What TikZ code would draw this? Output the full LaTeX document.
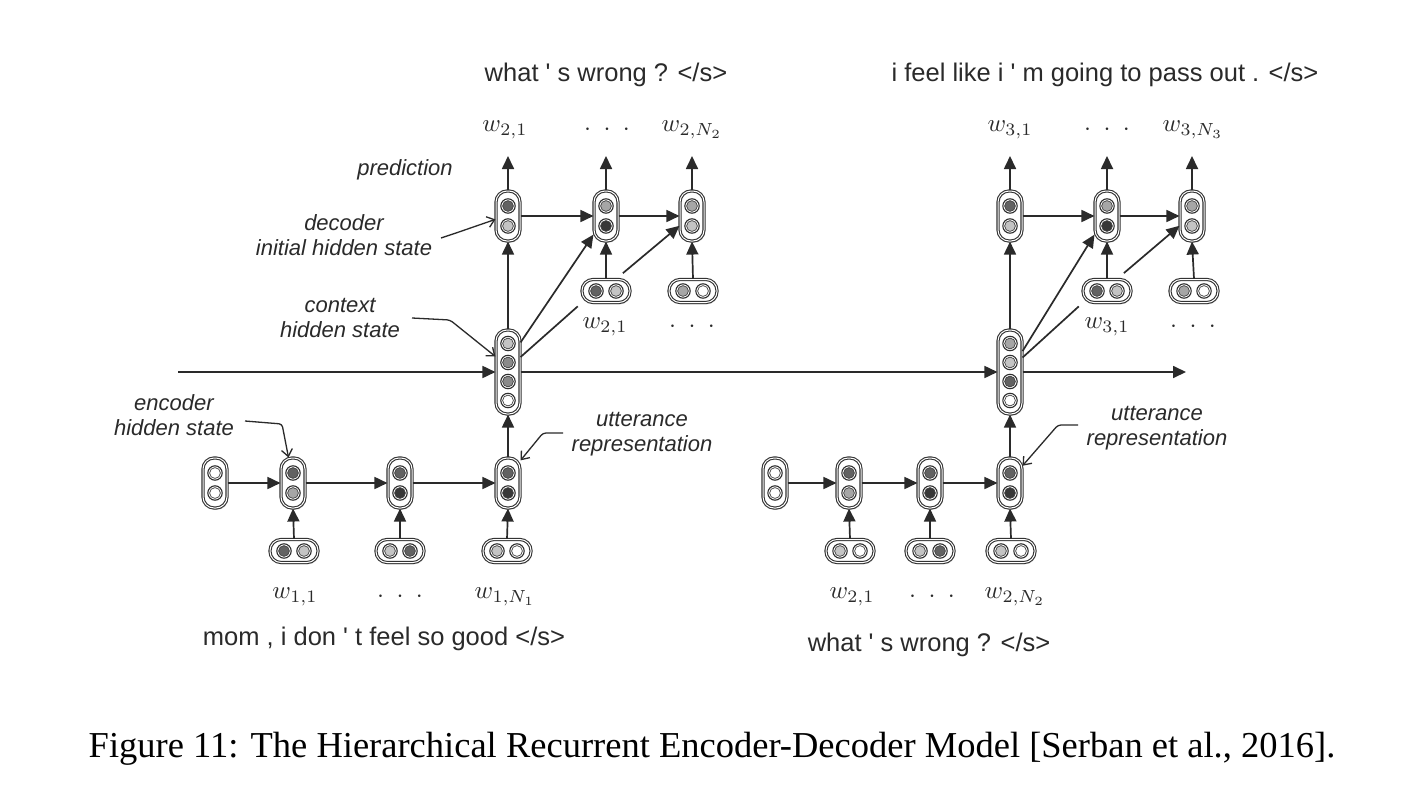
\documentclass[tikz,border=0pt]{standalone}
\usepackage{graphicx}
\usepackage{fontspec}
\setmainfont{Liberation Sans}
\newfontfamily\capfont{Liberation Serif}
\usetikzlibrary{arrows.meta,shadows,calc}

\definecolor{ink}{HTML}{2A2A2A}
\definecolor{cW}{HTML}{FFFFFF}
\definecolor{cL}{HTML}{C4C4C4}
\definecolor{cM}{HTML}{A6A6A6}
\definecolor{cG}{HTML}{8A8A8A}
\definecolor{cD}{HTML}{626262}
\definecolor{cK}{HTML}{383838}

\tikzset{
  capsty/.style={draw=black!80, line width=1.1pt, double=white, double distance=1.0pt,
    fill=white, rounded corners=11pt, inner sep=0pt,
    drop shadow={opacity=0.35, shadow xshift=1pt, shadow yshift=-1.8pt}},
  vcapsty/.style={capsty, minimum width=24pt, minimum height=50pt},
  ccapsty/.style={capsty, minimum width=24pt, minimum height=84pt},
  hcapsty/.style={capsty, minimum width=48pt, minimum height=23pt},
  arr/.style={draw=ink, line width=1.7pt, -{Triangle[length=13pt,width=12pt]}},
  ln/.style={draw=ink, line width=1.7pt},
  ann/.style={draw=ink, line width=1.3pt, rounded corners=3pt,
    -{Straight Barb[length=7pt,width=11pt,line width=1.3pt]}},
  sent/.style={font=\fontsize{25.5}{30}\selectfont, text=ink, inner sep=0pt},
  note/.style={font=\fontsize{22}{25.5}\selectfont\itshape, text=ink, inner sep=0pt, align=center},
  wl/.style={text=ink, inner sep=0pt},
}

\newcommand\cellball[3]{%
  \draw[draw=black!82, line width=1.1pt, fill=white] (#1,#2) circle[radius=7.2pt];
  \draw[draw=black!75, line width=0.7pt, fill=#3] (#1,#2) circle[radius=5.4pt];}
\newcommand\vcell[5]{%
  \node[vcapsty] (#1) at (#2,#3) {};
  \cellball{#2}{#3-10}{#4}\cellball{#2}{#3+10}{#5}}
\newcommand\hcell[5]{%
  \node[hcapsty] (#1) at (#2,#3) {};
  \cellball{#2-10}{#3}{#4}\cellball{#2+10}{#3}{#5}}
\newcommand\ccell[7]{%
  \node[ccapsty] (#1) at (#2,#3) {};
  \cellball{#2}{#3-28.5}{#4}\cellball{#2}{#3-9.5}{#5}%
  \cellball{#2}{#3+9.5}{#6}\cellball{#2}{#3+28.5}{#7}}
\newcommand\wm[1]{\scalebox{2.5}{$#1$}}
\newcommand\wdots{\scalebox{2.5}{${\cdot}\hspace{0.5em}{\cdot}\hspace{0.5em}{\cdot}$}}
\newcommand\q{\textquotesingle}

\begin{document}
\begin{tikzpicture}[x=1pt,y=-1pt]
\useasboundingbox[fill=white] (0,0) rectangle (1426,792);

\coordinate (cs) at (178,372);
\coordinate (ce) at (1186,372);

% ---------- encoder 1 ----------
\vcell{e1i}{215}{483}{cW}{cW}
\vcell{e1a}{293}{483}{cD}{cM}
\vcell{e1b}{400}{483}{cD}{cK}
\vcell{e1c}{508}{483}{cD}{cK}
\hcell{e1x1}{294}{551}{cD}{cL}
\hcell{e1x2}{400}{551}{cL}{cD}
\hcell{e1x3}{507}{551}{cL}{cW}

% ---------- context ----------
\ccell{c1}{508}{372}{cL}{cG}{cG}{cW}
\ccell{c2}{1010}{372}{cM}{cL}{cD}{cW}

% ---------- decoder 1 ----------
\vcell{d1a}{508}{216}{cD}{cL}
\vcell{d1b}{606}{216}{cM}{cK}
\vcell{d1c}{692}{216}{cM}{cL}
\hcell{d1x1}{606}{291}{cD}{cL}
\hcell{d1x2}{693}{291}{cM}{cW}

% ---------- decoder 2 ----------
\vcell{d2a}{1010}{216}{cD}{cL}
\vcell{d2b}{1107}{216}{cM}{cK}
\vcell{d2c}{1192}{216}{cM}{cL}
\hcell{d2x1}{1107}{291}{cD}{cL}
\hcell{d2x2}{1194}{291}{cM}{cW}

% ---------- encoder 2 ----------
\vcell{e2i}{775}{483}{cW}{cW}
\vcell{e2a}{849}{483}{cD}{cM}
\vcell{e2b}{930}{483}{cD}{cK}
\vcell{e2c}{1010}{483}{cD}{cK}
\hcell{e2x1}{850}{551}{cL}{cW}
\hcell{e2x2}{930}{551}{cL}{cD}
\hcell{e2x3}{1011}{551}{cL}{cW}

% ---------- output tip coordinates ----------
\coordinate (o1a) at (508,156);
\coordinate (o1b) at (606,156);
\coordinate (o1c) at (692,156);
\coordinate (o2a) at (1010,156);
\coordinate (o2b) at (1107,156);
\coordinate (o2c) at (1192,156);

% ---------- arrows: encoder 1 ----------
\draw[arr] (e1i.east) -- (e1a.west);
\draw[arr] (e1a.east) -- (e1b.west);
\draw[arr] (e1b.east) -- (e1c.west);
\draw[arr] (e1x1.north) -- (e1a.south);
\draw[arr] (e1x2.north) -- (e1b.south);
\draw[arr] (e1x3.north) -- (e1c.south);
\draw[arr] (e1c.north) -- (c1.south);

% ---------- arrows: encoder 2 ----------
\draw[arr] (e2i.east) -- (e2a.west);
\draw[arr] (e2a.east) -- (e2b.west);
\draw[arr] (e2b.east) -- (e2c.west);
\draw[arr] (e2x1.north) -- (e2a.south);
\draw[arr] (e2x2.north) -- (e2b.south);
\draw[arr] (e2x3.north) -- (e2c.south);
\draw[arr] (e2c.north) -- (c2.south);

% ---------- context chain ----------
\draw[arr] (cs) -- (c1.west);
\draw[arr] (c1.east) -- (c2.west);
\draw[arr] (c2.east) -- (ce);

% ---------- decoder 1 ----------
\draw[arr] (c1.north) -- (d1a.south);
\draw[arr] (c1.67) -- (d1b.236);
\draw[ln, shorten >=5pt] (c1.50) -- (d1x1.south west);
\draw[arr, shorten <=9pt] ($(d1x1.north)+(10,0)$) -- (d1c.218);
\draw[arr] (d1a.east) -- (d1b.west);
\draw[arr] (d1b.east) -- (d1c.west);
\draw[arr] (d1x1.north) -- (d1b.south);
\draw[arr] (d1x2.north) -- (d1c.south);
\draw[arr] (d1a.north) -- (o1a);
\draw[arr] (d1b.north) -- (o1b);
\draw[arr] (d1c.north) -- (o1c);

% ---------- decoder 2 ----------
\draw[arr] (c2.north) -- (d2a.south);
\draw[arr] (c2.59) -- (d2b.236);
\draw[ln, shorten >=5pt] (c2.49) -- (d2x1.south west);
\draw[arr, shorten <=9pt] ($(d2x1.north)+(10,0)$) -- (d2c.218);
\draw[arr] (d2a.east) -- (d2b.west);
\draw[arr] (d2b.east) -- (d2c.west);
\draw[arr] (d2x1.north) -- (d2b.south);
\draw[arr] (d2x2.north) -- (d2c.south);
\draw[arr] (d2a.north) -- (o2a);
\draw[arr] (d2b.north) -- (o2b);
\draw[arr] (d2c.north) -- (o2c);

% ---------- sentences ----------
\node[sent] (s1) at (606,75) {what \q\ s wrong ? </s>};
\node[sent] (s2) at (1105,75) {i feel like i \q\ m going to pass out . </s>};
\node[sent] (s3) at (384,639) {mom , i don \q\ t feel so good </s>};
\node[sent] (s4) at (929,645) {what \q\ s wrong ? </s>};

% ---------- word labels ----------
\node[wl] (l11) at (295,597) {\wm{w_{1,1}}};
\node[wl] (l12) at (400,597) {\wdots};
\node[wl] (l13) at (505,597) {\wm{w_{1,N_1}}};
\node[wl] (l21) at (852,597) {\wm{w_{2,1}}};
\node[wl] (l22) at (932,597) {\wdots};
\node[wl] (l23) at (1015,597) {\wm{w_{2,N_2}}};
\node[wl] (t11) at (505,130) {\wm{w_{2,1}}};
\node[wl] (t12) at (607,130) {\wdots};
\node[wl] (t13) at (692,130) {\wm{w_{2,N_2}}};
\node[wl] (t21) at (1010,130) {\wm{w_{3,1}}};
\node[wl] (t22) at (1107,130) {\wdots};
\node[wl] (t23) at (1193,130) {\wm{w_{3,N_3}}};
\node[wl] (i11) at (605,327) {\wm{w_{2,1}}};
\node[wl] (i12) at (692,327) {\wdots};
\node[wl] (i21) at (1107,327) {\wm{w_{3,1}}};
\node[wl] (i22) at (1193,327) {\wdots};

% ---------- annotations ----------
\node[note] (npred) at (405,170) {prediction};
\node[note] (ndec) at (344,235) {decoder\\initial hidden state};
\node[note] (nctx) at (340,318) {context\\hidden state};
\node[note] (nenc) at (174,415) {encoder\\hidden state};
\node[note] (nutt1) at (642,434) {utterance\\representation};
\node[note] (nutt2) at (1157,428) {utterance\\representation};

\coordinate (adec) at (441,238);
\coordinate (actx) at (412,318);
\coordinate (aenc) at (245,421);
\coordinate (autt1) at (563,433);
\coordinate (autt2) at (1078,425);
\draw[ann] (adec) -- (456,233) -- (d1a.195);
\draw[ann] (actx) -- (450,320) -- (c1.129);
\draw[ann] (aenc) -- (282,424) -- (e1a.100);
\draw[ann] (autt1) -- (543,433) -- (e1c.61);
\draw[ann] (autt2) -- (1058,425) -- (e2c.54);

% ---------- caption ----------
\node[font=\capfont\fontsize{36.5}{40}\selectfont, inner sep=0pt] (cap) at (712,749)
  {Figure 11: The Hierarchical Recurrent Encoder-Decoder Model [Serban et al., 2016].};
\end{tikzpicture}
\end{document}
